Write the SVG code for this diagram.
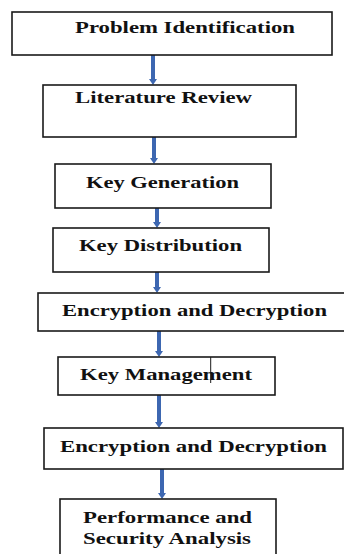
<svg xmlns="http://www.w3.org/2000/svg" width="344" height="554" viewBox="0 0 344 554">
  <style>
    .box { fill: #ffffff; stroke: #1a1a1a; stroke-width: 1.6; }
    .label { font-family: "Liberation Serif", "Times New Roman", serif; font-weight: bold; font-size: 17.5px; fill: #111111; }
    .flow { stroke: #3d67b1; stroke-width: 4; fill: none; marker-end: url(#head); }
  </style>
  <defs>
    <marker id="head" viewBox="0 0 6 8" refX="2" refY="4" markerWidth="6" markerHeight="8" markerUnits="userSpaceOnUse" orient="auto">
      <path d="M0,0 L6,4 L0,8 z" fill="#3d67b1"/>
    </marker>
  </defs>
  <rect width="344" height="554" fill="#ffffff"/>

  <!-- connectors -->
  <g id="connectors">
    <line class="flow" x1="153" y1="55" x2="153" y2="81"/>
    <line class="flow" x1="154" y1="137" x2="154" y2="160"/>
    <line class="flow" x1="157" y1="208" x2="157" y2="224"/>
    <line class="flow" x1="157" y1="272" x2="157" y2="289"/>
    <line class="flow" x1="159" y1="331" x2="159" y2="353"/>
    <line class="flow" x1="159" y1="395" x2="159" y2="424"/>
    <line class="flow" x1="162" y1="469" x2="162" y2="495"/>
  </g>

  <g id="problem-identification">
    <rect class="box" x="12" y="12" width="320" height="43"/>
    <text class="label" x="75" y="33" textLength="220" lengthAdjust="spacingAndGlyphs">Problem Identification</text>
  </g>

  <g id="literature-review">
    <rect class="box" x="43" y="85" width="253" height="52"/>
    <text class="label" x="75" y="103" textLength="177" lengthAdjust="spacingAndGlyphs">Literature Review</text>
  </g>

  <g id="key-generation">
    <rect class="box" x="55" y="164" width="216" height="44"/>
    <text class="label" x="86" y="187.5" textLength="153" lengthAdjust="spacingAndGlyphs">Key Generation</text>
  </g>

  <g id="key-distribution">
    <rect class="box" x="53" y="228" width="216" height="44"/>
    <text class="label" x="79" y="251" textLength="163" lengthAdjust="spacingAndGlyphs">Key Distribution</text>
  </g>

  <g id="encryption-decryption-1">
    <rect class="box" x="38" y="293" width="312" height="38"/>
    <text class="label" x="62" y="315.5" textLength="265" lengthAdjust="spacingAndGlyphs">Encryption and Decryption</text>
  </g>

  <g id="key-management">
    <rect class="box" x="58" y="357" width="217" height="38"/>
    <text class="label" x="80" y="380" textLength="172" lengthAdjust="spacingAndGlyphs">Key Management</text>
    <line x1="210.7" y1="357" x2="210.7" y2="383" stroke="#1a1a1a" stroke-width="1"/>
  </g>

  <g id="encryption-decryption-2">
    <rect class="box" x="44" y="428" width="299" height="41"/>
    <text class="label" x="60" y="451.5" textLength="267" lengthAdjust="spacingAndGlyphs">Encryption and Decryption</text>
  </g>

  <g id="performance-security">
    <rect class="box" x="60" y="499" width="216" height="70"/>
    <text class="label" x="83" y="523" textLength="169" lengthAdjust="spacingAndGlyphs">Performance and</text>
    <text class="label" x="83" y="544" textLength="168" lengthAdjust="spacingAndGlyphs">Security Analysis</text>
  </g>
</svg>
